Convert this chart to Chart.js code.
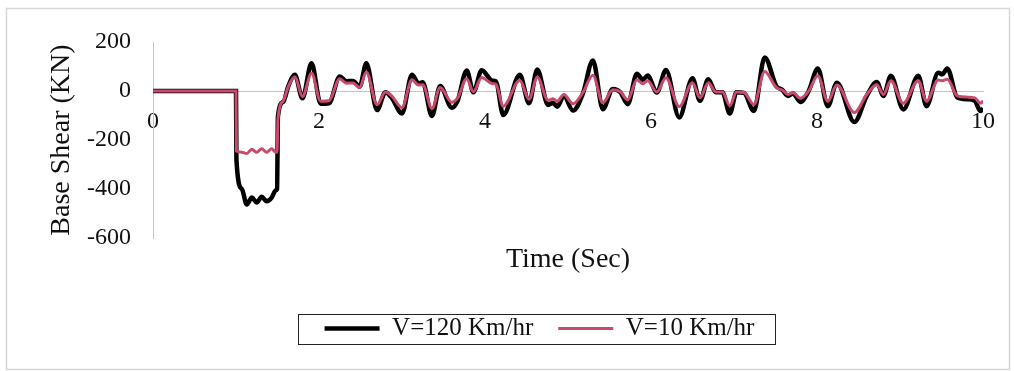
<!DOCTYPE html>
<html>
<head>
<meta charset="utf-8">
<title>Base Shear</title>
<script src="https://cdn.jsdelivr.net/npm/chart.js@4.4.1/dist/chart.umd.min.js"></script>
<style>
  html, body { margin: 0; padding: 0; background: #fff; }
  #wrap { width: 1014px; height: 371px; position: relative; }
</style>
</head>
<body>
<div id="wrap"><canvas id="shearChart"></canvas></div>
<script>
// time (s) and base shear (kN)
const timeSec = [
  0, 1.0, 1.005, 1.07, 1.13, 1.19, 1.25, 1.31, 1.37, 1.43,
  1.48, 1.495, 1.505, 1.57, 1.63, 1.71, 1.80, 1.91, 2.02, 2.12,
  2.25, 2.33, 2.41, 2.49, 2.57, 2.70, 2.80, 2.88, 3.00, 3.12,
  3.20, 3.25, 3.36, 3.46, 3.60, 3.67, 3.78, 3.86, 3.96, 4.09,
  4.13, 4.22, 4.42, 4.53, 4.63, 4.76, 4.82, 4.87, 4.95, 5.06,
  5.18, 5.30, 5.42, 5.54, 5.63, 5.72, 5.83, 5.90, 5.96, 6.07,
  6.18, 6.34, 6.50, 6.59, 6.69, 6.78, 6.86, 6.95, 7.03, 7.12,
  7.24, 7.37, 7.51, 7.58, 7.65, 7.71, 7.80, 7.90, 8.01, 8.13,
  8.24, 8.45, 8.60, 8.72, 8.80, 8.89, 9.04, 9.22, 9.32, 9.46,
  9.51, 9.57, 9.69, 9.81, 9.90, 9.97, 10.0
];
const shear120 = [
  0, 0, -280, -400, -463, -435, -455, -432, -450, -435,
  -405, -400, -105, -44, 20, 66, -30, 113, -52, -50,
  59, 40, 41, 18, 113, -78, -5, -30, -92, 66,
  31, 36, -102, 20, -68, -40, 84, -5, 85, 42,
  40, -98, 66, -50, 88, -57, -48, -64, -20, -80,
  -10, 125, -74, 8, -5, -54, 70, 46, 63, -6,
  86, -108, 52, -40, 48, -5, -5, -92, -5, -8,
  -82, 137, 20, 5, -20, -10, -45, 0, 92, -62,
  34, -127, -20, 37, -20, 62, -75, 62, -62, 75,
  68, 92, -27, -34, -40, -82, -70
];
const shear10 = [
  0, 0, -245, -250, -255, -238, -250, -236, -250, -236,
  -250, -250, -115, -40, 18, 58, -23, 72, -42, -40,
  50, 32, 33, 14, 78, -56, -4, -22, -68, 46,
  24, 26, -72, 14, -46, -28, 50, -3, 55, 30,
  28, -62, 44, -34, 56, -38, -32, -42, -14, -52,
  -6, 64, -48, 5, -3, -36, 46, 30, 42, -4,
  54, -64, 34, -28, 34, -4, -4, -60, -4, -6,
  -55, 80, 14, 4, -14, -7, -30, 0, 62, -42,
  24, -88, -14, 26, -14, 42, -50, 42, -42, 45,
  42, 48, -20, -25, -28, -50, -40
];
const xTicks = [0, 2, 4, 6, 8, 10];
const yTicks = [-600, -400, -200, 0, 200];

const serif = "'Liberation Serif', 'Times New Roman', serif";
const LEGEND_SHIFT = 48;

// faint frame round the whole figure
const framePlugin = {
  id: 'frame',
  beforeDraw(chart) {
    const ctx = chart.ctx;
    ctx.save();
    ctx.fillStyle = '#fff';
    ctx.fillRect(0, 0, chart.width, chart.height);
    ctx.strokeStyle = '#d6d6d6';
    ctx.lineWidth = 1.5;
    ctx.strokeRect(6.5, 8.5, 1003, 361);
    ctx.restore();
  }
};

// move the legend off centre and put a box round it, like the original
const legendBoxPlugin = {
  id: 'legendBox',
  afterLayout(chart) {
    chart.legend.left += LEGEND_SHIFT;
    chart.legend.right += LEGEND_SHIFT;
  },
  afterDraw(chart) {
    const hb = chart.legend.legendHitBoxes;
    if (!hb || !hb.length) return;
    const first = hb[0], last = hb[hb.length - 1];
    const cy = first.top + first.height / 2;
    const x0 = first.left - 27;
    const x1 = last.left + last.width + 20;
    const ctx = chart.ctx;
    ctx.save();
    ctx.strokeStyle = '#222';
    ctx.lineWidth = 1;
    ctx.strokeRect(Math.round(x0) + 0.5, Math.round(cy - 15) + 0.5, Math.round(x1 - x0), 30);
    ctx.restore();
  }
};

const toPoints = ys => timeSec.map((t, i) => ({ x: t, y: ys[i] }));

new Chart(document.getElementById('shearChart'), {
  type: 'line',
  data: {
    datasets: [{
      label: 'V=10 Km/hr',
      data: toPoints(shear10),
      borderColor: '#c94a6c',
      backgroundColor: '#c94a6c',
      borderWidth: 3,
      pointRadius: 0,
      cubicInterpolationMode: 'monotone'
    }, {
      label: 'V=120 Km/hr',
      data: toPoints(shear120),
      borderColor: '#000',
      backgroundColor: '#000',
      borderWidth: 4.5,
      pointRadius: 0,
      cubicInterpolationMode: 'monotone'
    }]
  },
  options: {
    responsive: true,
    maintainAspectRatio: false,
    animation: false,
    layout: { padding: { left: 0, right: 31, top: 42, bottom: 20 } },
    plugins: {
      tooltip: { enabled: false },
      legend: {
        position: 'bottom',
        reverse: true,
        labels: {
          usePointStyle: true,
          pointStyle: 'line',
          pointStyleWidth: 55,
          padding: 25,
          color: '#111',
          font: { family: serif, size: 25 }
        }
      }
    },
    scales: {
      x: {
        type: 'linear',
        position: { y: 0 },
        min: xTicks[0],
        max: xTicks[xTicks.length - 1],
        afterBuildTicks: s => { s.ticks = xTicks.map(v => ({ value: v })); },
        afterFit: s => { s.height = 0; },
        grid: { display: false, drawTicks: false },
        border: { display: true, color: '#c4c4c4', width: 1 },
        ticks: { padding: 16, color: '#111', font: { family: serif, size: 24 } }
      },
      xTitle: {
        type: 'linear',
        position: 'bottom',
        min: 0,
        max: 10,
        afterFit: s => { s.height = 53; },
        grid: { display: false },
        border: { display: false },
        ticks: { display: false },
        title: {
          display: true,
          text: 'Time (Sec)',
          color: '#111',
          font: { family: serif, size: 28 },
          padding: { top: 0, bottom: 15 }
        }
      },
      y: {
        min: yTicks[0],
        max: yTicks[yTicks.length - 1],
        afterBuildTicks: s => { s.ticks = yTicks.map(v => ({ value: v })); },
        afterFit: s => { s.width = 153; },
        grid: { display: false, drawTicks: false },
        border: { display: true, color: '#c4c4c4', width: 1 },
        ticks: { padding: 22, color: '#111', font: { family: serif, size: 24 } },
        title: {
          display: true,
          text: 'Base Shear (KN)',
          color: '#111',
          font: { family: serif, size: 28 },
          padding: { top: 45, bottom: 0 }
        }
      }
    }
  },
  plugins: [framePlugin, legendBoxPlugin]
});
</script>
</body>
</html>
